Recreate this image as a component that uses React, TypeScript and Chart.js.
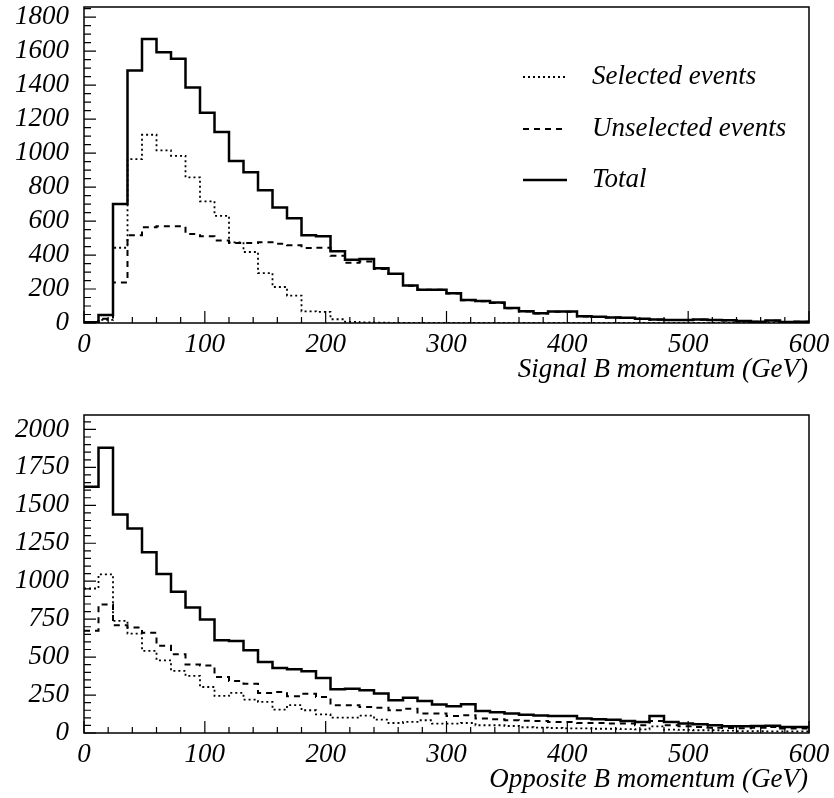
import React, { useEffect, useRef } from "react";
import { Chart, registerables } from "chart.js";

Chart.register(...registerables);

const FONT_FAMILY = '"Liberation Serif", "Times New Roman", Times, serif';
const FONT_SIZE = 27;

// 50 bins of 12 GeV from 0 to 600 GeV
const BIN_WIDTH = 12;
const X_MIN = 0;
const X_MAX = 600;
const xTickLabels = [0, 100, 200, 300, 400, 500, 600];
const signalYTickLabels = [0, 200, 400, 600, 800, 1000, 1200, 1400, 1600, 1800];
const oppositeYTickLabels = [0, 250, 500, 750, 1000, 1250, 1500, 1750, 2000];
const legendLabels = ["Selected events", "Unselected events", "Total"];

// Top panel: Signal B momentum
const signalSelected = [
  2, 18, 443, 965, 1108, 1016, 984, 857, 716, 631,
  475, 418, 294, 212, 161, 69, 65, 22, 7, 3,
  2, 1, 1, 1, 0, 0, 0, 0, 0, 0,
  0, 0, 0, 0, 0, 0, 0, 0, 0, 0,
  0, 0, 0, 0, 0, 0, 0, 0, 0, 0,
];
const signalUnselected = [
  3, 25, 239, 516, 563, 569, 569, 524, 510, 486,
  471, 471, 475, 467, 457, 441, 443, 396, 355, 362,
  318, 288, 219, 195, 195, 174, 134, 128, 117, 87,
  68, 56, 66, 66, 38, 36, 32, 30, 24, 19,
  17, 17, 19, 17, 15, 11, 7, 13, 5, 7,
];
const signalTotal = [
  5, 47, 700, 1486, 1672, 1594, 1555, 1386, 1237, 1124,
  953, 888, 782, 680, 616, 516, 510, 422, 373, 376,
  322, 290, 220, 196, 196, 175, 135, 129, 120, 88,
  69, 57, 67, 67, 39, 37, 33, 31, 25, 20,
  18, 18, 20, 18, 16, 12, 8, 14, 6, 8,
];

// Bottom panel: Opposite B momentum
const oppositeSelected = [
  952, 1045, 739, 655, 541, 479, 409, 376, 303, 244,
  264, 220, 205, 154, 183, 150, 123, 101, 101, 114,
  88, 66, 73, 84, 62, 62, 66, 51, 51, 46,
  38, 35, 33, 30, 30, 28, 28, 26, 24, 44,
  22, 20, 18, 18, 15, 13, 13, 11, 11, 11,
];
const oppositeUnselected = [
  673, 847, 710, 695, 660, 574, 519, 451, 444, 369,
  343, 325, 264, 270, 242, 259, 237, 183, 183, 172,
  167, 150, 160, 128, 128, 112, 117, 95, 90, 84,
  81, 79, 73, 73, 66, 66, 62, 62, 51, 79,
  51, 44, 40, 35, 33, 31, 35, 40, 29, 29,
];
const oppositeTotal = [
  1623, 1880, 1440, 1348, 1190, 1047, 930, 827, 748, 611,
  606, 545, 468, 429, 420, 407, 363, 288, 292, 281,
  260, 216, 233, 211, 187, 176, 189, 145, 136, 128,
  121, 115, 112, 112, 95, 90, 88, 79, 73, 112,
  73, 62, 57, 51, 44, 44, 46, 48, 40, 40,
];

type PanelProps = {
  top: number;
  height: number;
  plotTop: number;
  plotBottom: number;
  yMax: number;
  yTickLabels: number[];
  yMinorStep: number;
  selected: number[];
  unselected: number[];
  total: number[];
  xTitle: string;
  showLegend: boolean;
};

function histPoints(values: number[]) {
  const pts = values.map((v, i) => ({ x: X_MIN + i * BIN_WIDTH, y: v }));
  pts.push({ x: X_MIN + values.length * BIN_WIDTH, y: values[values.length - 1] });
  return pts;
}

const cssFont = `italic ${FONT_SIZE}px ${FONT_FAMILY}`;

function HistPanel(p: PanelProps) {
  const ref = useRef<HTMLCanvasElement | null>(null);
  useEffect(() => {
    if (!ref.current) return;
    const W = 834;
    const H = p.height;
    const majorY = p.yTickLabels[1] - p.yTickLabels[0];

    const framePlugin = {
      id: "frameTicks",
      afterDraw(chart: any) {
        const ctx = chart.ctx;
        const a = chart.chartArea;
        const xs = chart.scales.x;
        const ys = chart.scales.y;
        ctx.save();
        ctx.strokeStyle = "#000";
        ctx.lineWidth = 1.5;
        ctx.strokeRect(a.left, a.top, a.right - a.left, a.bottom - a.top);
        ctx.lineWidth = 1.2;
        ctx.beginPath();
        for (let v = X_MIN; v <= X_MAX; v += 20) {
          const px = xs.getPixelForValue(v);
          const len = v % 100 === 0 ? 12 : 6;
          ctx.moveTo(px, a.bottom);
          ctx.lineTo(px, a.bottom - len);
        }
        for (let v = 0; v <= p.yMax; v += p.yMinorStep) {
          const py = ys.getPixelForValue(v);
          const len = v % majorY === 0 ? 12 : 7;
          ctx.moveTo(a.left, py);
          ctx.lineTo(a.left + len, py);
        }
        ctx.stroke();

        // tick labels, placed by the chart's own scales
        ctx.fillStyle = "#000";
        ctx.font = cssFont;
        ctx.textAlign = "center";
        ctx.textBaseline = "alphabetic";
        xs.ticks.forEach((t: any) => {
          ctx.fillText(String(t.value), xs.getPixelForValue(t.value), a.bottom + 29);
        });
        ctx.textAlign = "right";
        ctx.textBaseline = "middle";
        ys.ticks.forEach((t: any) => {
          ctx.fillText(String(t.value), a.left - 15, ys.getPixelForValue(t.value));
        });

        ctx.textAlign = "right";
        ctx.textBaseline = "alphabetic";
        ctx.fillText(p.xTitle, a.right - 1, a.bottom + 54);

        if (p.showLegend) {
          const ds = chart.data.datasets;
          const rows = [77, 129, 180];
          rows.forEach((y, i) => {
            const d = ds[i];
            ctx.beginPath();
            ctx.lineWidth = d.borderWidth;
            ctx.setLineDash(d.borderDash || []);
            ctx.moveTo(523, y);
            ctx.lineTo(567, y);
            ctx.stroke();
            ctx.setLineDash([]);
            ctx.textAlign = "left";
            ctx.textBaseline = "middle";
            ctx.fillText(legendLabels[i], 592, y);
          });
        }
        ctx.restore();
      },
    };

    const mkDs = (label: string, vals: number[], width: number, dash: number[]) => ({
      label,
      data: histPoints(vals),
      stepped: "before" as const,
      borderColor: "#000",
      borderWidth: width,
      borderDash: dash,
      pointRadius: 0,
      fill: false,
      tension: 0,
    });

    const chart = new Chart(ref.current, {
      type: "line",
      data: {
        datasets: [
          mkDs(legendLabels[0], p.selected, 1.8, [2, 3]),
          mkDs(legendLabels[1], p.unselected, 2, [6, 5]),
          mkDs(legendLabels[2], p.total, 2.5, []),
        ],
      },
      options: {
        animation: false,
        responsive: false,
        devicePixelRatio: 1,
        layout: { padding: { top: p.plotTop, right: W - 809, left: 0, bottom: 0 } },
        plugins: { legend: { display: false }, tooltip: { enabled: false } },
        scales: {
          x: {
            type: "linear",
            min: X_MIN,
            max: X_MAX,
            grid: { display: false, drawTicks: false },
            border: { display: false },
            ticks: { display: false, autoSkip: false },
            afterBuildTicks: (s: any) => {
              s.ticks = xTickLabels.map((v) => ({ value: v }));
            },
            afterFit: (s: any) => {
              s.height = H - p.plotBottom;
              s.paddingLeft = 0;
              s.paddingRight = 0;
            },
          },
          y: {
            type: "linear",
            min: 0,
            max: p.yMax,
            grid: { display: false, drawTicks: false },
            border: { display: false },
            ticks: { display: false, autoSkip: false },
            afterBuildTicks: (s: any) => {
              s.ticks = p.yTickLabels.map((v) => ({ value: v }));
            },
            afterFit: (s: any) => {
              s.width = 84;
              s.paddingTop = 0;
              s.paddingBottom = 0;
            },
          },
        },
      } as any,
      plugins: [framePlugin],
    });
    return () => chart.destroy();
  }, []);
  return (
    <canvas
      ref={ref}
      width={834}
      height={p.height}
      style={{ position: "absolute", left: 0, top: p.top, width: 834, height: p.height, display: "block" }}
    />
  );
}

export default function App() {
  return (
    <div style={{ position: "absolute", left: 0, top: 0, width: 834, height: 798, background: "#fff" }}>
      <HistPanel
        top={0}
        height={400}
        plotTop={7}
        plotBottom={323}
        yMax={1860}
        yTickLabels={signalYTickLabels}
        yMinorStep={50}
        selected={signalSelected}
        unselected={signalUnselected}
        total={signalTotal}
        xTitle="Signal B momentum (GeV)"
        showLegend={true}
      />
      <HistPanel
        top={400}
        height={398}
        plotTop={15}
        plotBottom={333}
        yMax={2095}
        yTickLabels={oppositeYTickLabels}
        yMinorStep={50}
        selected={oppositeSelected}
        unselected={oppositeUnselected}
        total={oppositeTotal}
        xTitle="Opposite B momentum (GeV)"
        showLegend={false}
      />
    </div>
  );
}
